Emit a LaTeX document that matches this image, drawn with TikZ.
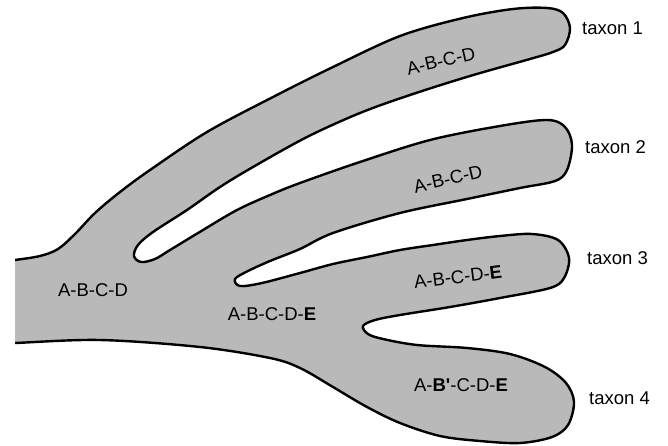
\documentclass[tikz,border=0pt]{standalone}
\usepackage{fontspec}
\setmainfont{Liberation Sans}
\definecolor{fillgray}{RGB}{185,185,185}
\begin{document}
\begin{tikzpicture}[x=1pt,y=-1pt,
  lab/.style={font=\fontsize{18.5}{20}\selectfont, inner sep=0pt},
  outline/.style={fill=fillgray, draw=black, line width=2.4pt, line join=round}]
\useasboundingbox (0,0) rectangle (668,446);
\begin{scope}
\clip (15,-5) rectangle (668,451);
\filldraw[outline] plot[smooth, tension=0.55] coordinates {
(5,261) (15,260) (40,256) (58,249) (75,234) (95,213) (120,192) (150,170)
(207,132) (273,97) (333,67) (400,36) (463,18)
(513,9) (547,8) (563,13) (570,28) (565,45) (553,52) (530,59)
(470,76) (410,95) (360,113) (307,137) (253,167) (220,187) (187,210)
(153,232) (138,245) (134,256) (141,262) (155,259) (170,250) (203,230)
(237,210) (270,195) (300,183) (360,162) (430,140) (500,126) (547,120)
(565,127) (572,145) (567,170) (555,181) (520,188) (467,199)
(400,213) (333,233) (300,249) (270,261) (248,271) (235,279)
(240,286) (262,283) (300,273) (333,264) (367,257) (400,250) (433,245)
(467,240) (500,236) (532,234) (558,240) (569,258) (564,278) (550,288)
(500,298) (450,307) (400,315) (375,320) (363,326) (368,334) (383,339)
(417,345) (467,348) (510,354) (545,367) (566,383) (574,402)
(568,425) (552,437) (520,443) (480,441) (440,436) (400,423) (367,407) (333,387)
(300,368) (270,358) (200,347) (100,340) (15,343) (5,343)} -- cycle;
\end{scope}
\node[lab, anchor=west] (t1) at (582,28) {taxon 1};
\node[lab, anchor=west] (t2) at (585,147) {taxon 2};
\node[lab, anchor=west] (t3) at (587,258) {taxon 3};
\node[lab, anchor=west] (t4) at (589,398) {taxon 4};
\node[lab, rotate=13] (f1) at (441,61) {A-B-C-D};
\node[lab, rotate=13] (f2) at (448,179) {A-B-C-D};
\node[lab, rotate=7] (f3) at (458,277) {A-B-C-D-\textbf{E}};
\node[lab] (f4) at (461,385) {A-\textbf{B\textquotesingle}-C-D-\textbf{E}};
\node[lab] (b1) at (93,290) {A-B-C-D};
\node[lab] (b2) at (272,314) {A-B-C-D-\textbf{E}};
\end{tikzpicture}
\end{document}
